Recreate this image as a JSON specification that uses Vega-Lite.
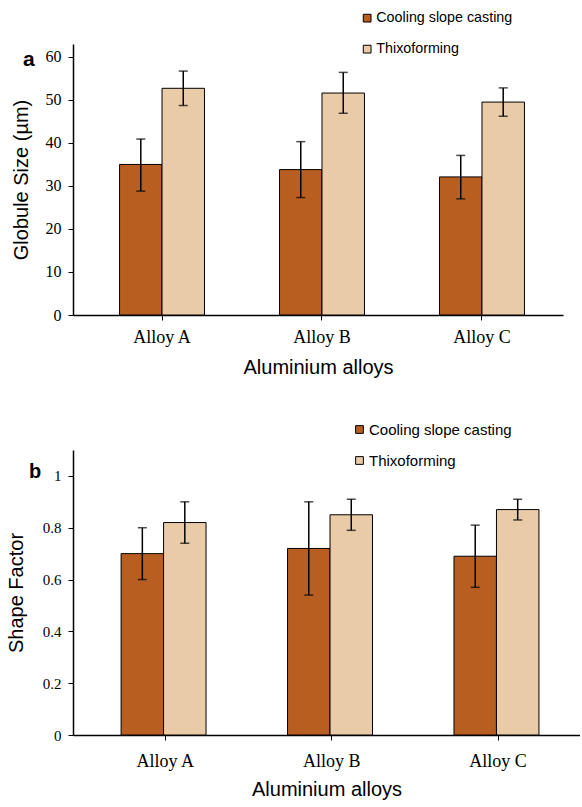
{
  "$schema": "https://vega.github.io/schema/vega-lite/v6.json",
  "padding": {"top": 11, "left": 6, "right": 0, "bottom": 5},
  "bounds": "flush",
  "spacing": 135,
  "background": "white",
  "config": {
    "view": {"stroke": null},
    "axis": {
      "grid": false,
      "domainColor": "black",
      "domainWidth": 1.5,
      "tickColor": "black",
      "tickWidth": 1,
      "tickSize": 5,
      "labelFont": "Liberation Serif",
      "labelColor": "black",
      "titleFont": "Liberation Sans",
      "titleFontSize": 20,
      "titleFontWeight": "normal",
      "titleColor": "black"
    },
    "legend": {
      "title": null,
      "orient": "none",
      "symbolType": "square",
      "symbolSize": 60,
      "symbolStrokeColor": "black",
      "symbolStrokeWidth": 1,
      "labelFont": "Liberation Sans",
      "labelColor": "black",
      "labelOffset": 2
    }
  },
  "datasets": {
    "globule": [
      {"alloy": "Alloy A", "process": "Cooling slope casting", "value": 35.0, "lo": 28.8, "hi": 40.9},
      {"alloy": "Alloy A", "process": "Thixoforming", "value": 52.7, "lo": 48.7, "hi": 56.7},
      {"alloy": "Alloy B", "process": "Cooling slope casting", "value": 33.8, "lo": 27.3, "hi": 40.3},
      {"alloy": "Alloy B", "process": "Thixoforming", "value": 51.6, "lo": 46.9, "hi": 56.4},
      {"alloy": "Alloy C", "process": "Cooling slope casting", "value": 32.1, "lo": 27.0, "hi": 37.1},
      {"alloy": "Alloy C", "process": "Thixoforming", "value": 49.5, "lo": 46.2, "hi": 52.8}
    ],
    "shape": [
      {"alloy": "Alloy A", "process": "Cooling slope casting", "value": 0.70, "lo": 0.60, "hi": 0.80},
      {"alloy": "Alloy A", "process": "Thixoforming", "value": 0.82, "lo": 0.74, "hi": 0.90},
      {"alloy": "Alloy B", "process": "Cooling slope casting", "value": 0.72, "lo": 0.54, "hi": 0.90},
      {"alloy": "Alloy B", "process": "Thixoforming", "value": 0.85, "lo": 0.79, "hi": 0.91},
      {"alloy": "Alloy C", "process": "Cooling slope casting", "value": 0.69, "lo": 0.57, "hi": 0.81},
      {"alloy": "Alloy C", "process": "Thixoforming", "value": 0.87, "lo": 0.83, "hi": 0.91}
    ]
  },
  "vconcat": [
    {
      "width": 490,
      "height": 271,
      "title": {"text": "a", "anchor": "start", "frame": "group", "orient": "top", "font": "Liberation Sans", "fontSize": 21, "fontWeight": "bold", "color": "black", "dx": -50, "dy": 76, "offset": 0, "baseline": "alphabetic"},
      "data": {"name": "globule"},
      "encoding": {
        "x": {"field": "alloy", "type": "nominal", "scale": {"paddingInner": 0.469, "paddingOuter": 0.266, "align": 0.547}, "axis": {"title": "Aluminium alloys", "labelAngle": 0, "labelFontSize": 18, "labelPadding": 8, "titlePadding": 11}},
        "xOffset": {"field": "process", "type": "nominal", "sort": ["Cooling slope casting", "Thixoforming"]}
      },
      "layer": [
        {
          "mark": {"type": "bar", "stroke": "black", "strokeWidth": 1},
          "encoding": {
            "y": {"field": "value", "type": "quantitative", "scale": {"domain": [0, 63], "nice": false}, "axis": {"title": "Globule Size (µm)", "values": [0, 10, 20, 30, 40, 50, 60], "labelFontSize": 16, "labelPadding": 7, "titlePadding": 14}},
            "color": {"field": "process", "type": "nominal", "sort": ["Cooling slope casting", "Thixoforming"], "scale": {"domain": ["Cooling slope casting", "Thixoforming"], "range": ["#B85E20", "#E9CBA8"]}, "legend": {"legendX": 287, "legendY": -33, "labelFontSize": 14.3, "rowPadding": 16}}
          }
        },
        {
          "mark": {"type": "rule", "color": "black", "strokeWidth": 1.5},
          "encoding": {"y": {"field": "lo", "type": "quantitative"}, "y2": {"field": "hi"}}
        },
        {
          "mark": {"type": "tick", "color": "black", "thickness": 1.5, "size": 9, "orient": "horizontal"},
          "encoding": {"y": {"field": "lo", "type": "quantitative"}}
        },
        {
          "mark": {"type": "tick", "color": "black", "thickness": 1.5, "size": 9, "orient": "horizontal"},
          "encoding": {"y": {"field": "hi", "type": "quantitative"}}
        }
      ]
    },
    {
      "width": 507,
      "height": 285,
      "title": {"text": "b", "anchor": "start", "frame": "group", "orient": "top", "font": "Liberation Sans", "fontSize": 20, "fontWeight": "bold", "color": "black", "dx": -44, "dy": 76, "offset": 0, "baseline": "alphabetic"},
      "data": {"name": "shape"},
      "encoding": {
        "x": {"field": "alloy", "type": "nominal", "scale": {"paddingInner": 0.47, "paddingOuter": 0.258, "align": 0.56}, "axis": {"title": "Aluminium alloys", "labelAngle": 0, "labelFontSize": 18, "labelPadding": 12, "titlePadding": 9}},
        "xOffset": {"field": "process", "type": "nominal", "sort": ["Cooling slope casting", "Thixoforming"]}
      },
      "layer": [
        {
          "mark": {"type": "bar", "stroke": "black", "strokeWidth": 1},
          "encoding": {
            "y": {"field": "value", "type": "quantitative", "scale": {"domain": [0, 1.1], "nice": false}, "axis": {"title": "Shape Factor", "values": [0, 0.2, 0.4, 0.6, 0.8, 1], "format": "~g", "labelFontSize": 15, "labelPadding": 7, "titlePadding": 16}},
            "color": {"field": "process", "type": "nominal", "sort": ["Cooling slope casting", "Thixoforming"], "scale": {"domain": ["Cooling slope casting", "Thixoforming"], "range": ["#B85E20", "#E9CBA8"]}, "legend": {"legendX": 279, "legendY": -28, "labelFontSize": 15, "rowPadding": 15}}
          }
        },
        {
          "mark": {"type": "rule", "color": "black", "strokeWidth": 1.5},
          "encoding": {"y": {"field": "lo", "type": "quantitative"}, "y2": {"field": "hi"}}
        },
        {
          "mark": {"type": "tick", "color": "black", "thickness": 1.5, "size": 9, "orient": "horizontal"},
          "encoding": {"y": {"field": "lo", "type": "quantitative"}}
        },
        {
          "mark": {"type": "tick", "color": "black", "thickness": 1.5, "size": 9, "orient": "horizontal"},
          "encoding": {"y": {"field": "hi", "type": "quantitative"}}
        }
      ]
    }
  ],
  "resolve": {"scale": {"color": "independent"}, "legend": {"color": "independent"}}
}
